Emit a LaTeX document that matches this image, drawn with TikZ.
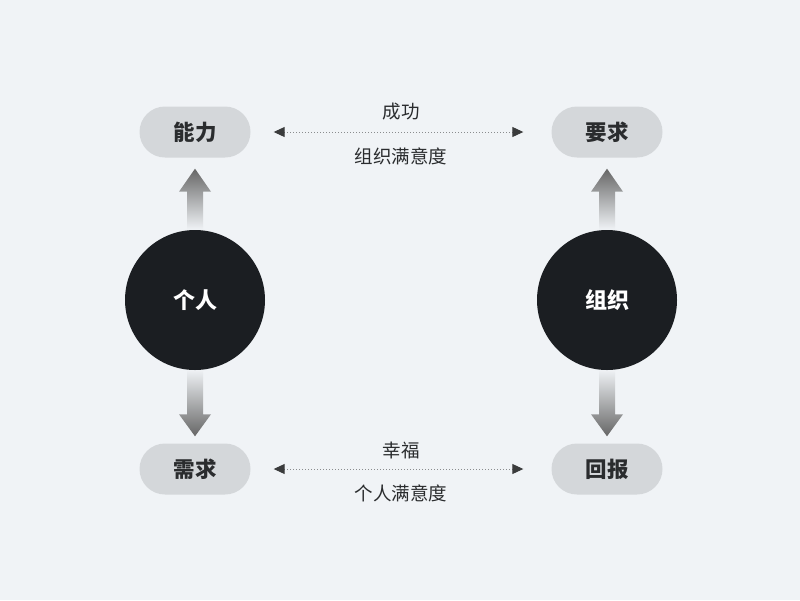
\documentclass[tikz,border=0pt]{standalone}
\usepackage{fontspec}
\setmainfont{Noto Sans CJK SC}
\usetikzlibrary{arrows.meta,calc}

\definecolor{bgcol}{HTML}{F0F3F6}
\definecolor{pillgray}{HTML}{D4D7DA}
\definecolor{hubdark}{HTML}{1B1E22}
\definecolor{textdark}{HTML}{2A2C2E}
\definecolor{tipdark}{HTML}{3A3B3C}
\definecolor{dotgray}{HTML}{8A8C8E}

\begin{document}
\begin{tikzpicture}[
    x=1pt, y=-1pt,
    >=Stealth,
    pill/.style={rectangle, rounded corners=25.5pt, fill=pillgray, minimum width=111pt, minimum height=51pt,
        text=textdark, font=\fontsize{21.5}{21.5}\selectfont\bfseries},
    hub/.style={circle, fill=hubdark, minimum size=140pt, inner sep=0pt,
        text=white, font=\fontsize{22}{22}\selectfont\bfseries},
    tag/.style={text=textdark, font=\fontsize{18.5}{18.5}\selectfont},
    dot link/.style={{Triangle[length=11pt, width=10pt, color=tipdark]}-{Triangle[length=11pt, width=10pt, color=tipdark]},
        draw=dotgray, line width=1pt, dash pattern=on 1pt off 2pt,
        shorten <=23pt, shorten >=28pt},
]

% Background
\fill[bgcol] (0,0) rectangle (800,600);
\useasboundingbox (0,0) rectangle (800,600);

% Pills
\node[pill] (ability) at (195,132) {能力};
\node[pill] (require) at (607,132) {要求};
\node[pill] (demand)  at (195,469) {需求};
\node[pill] (reward)  at (607,469) {回报};

% Fading arrows (circle -> pill)
\shade[top color=black!60, bottom color=bgcol]
    ($(ability.south)+(0,11)$) -- ++(16,23) -- ++(-8,0) -- ++(0,38)
    -- ++(-16,0) -- ++(0,-38) -- ++(-8,0) -- cycle;
\shade[top color=black!60, bottom color=bgcol]
    ($(require.south)+(0,11)$) -- ++(16,23) -- ++(-8,0) -- ++(0,38)
    -- ++(-16,0) -- ++(0,-38) -- ++(-8,0) -- cycle;
\shade[top color=bgcol, bottom color=black!60]
    ($(demand.north)+(0,-7)$) -- ++(16,-22) -- ++(-8,0) -- ++(0,-45)
    -- ++(-16,0) -- ++(0,45) -- ++(-8,0) -- cycle;
\shade[top color=bgcol, bottom color=black!60]
    ($(reward.north)+(0,-7)$) -- ++(16,-22) -- ++(-8,0) -- ++(0,-45)
    -- ++(-16,0) -- ++(0,45) -- ++(-8,0) -- cycle;

% Hubs
\node[hub] (person) at (195,300) {个人};
\node[hub] (org)    at (607,300) {组织};

% Dotted links
\draw[dot link] (ability) -- (require);
\draw[dot link] (demand) -- (reward);

% Link labels
\node[tag] (success)   at ($(ability)!0.5!(require)+(0,-20)$) {成功};
\node[tag] (orgsat)    at ($(ability)!0.5!(require)+(0,24)$) {组织满意度};
\node[tag] (happiness) at ($(demand)!0.5!(reward)+(0,-19)$) {幸福};
\node[tag] (indsat)    at ($(demand)!0.5!(reward)+(0,24)$) {个人满意度};

\end{tikzpicture}
\end{document}
